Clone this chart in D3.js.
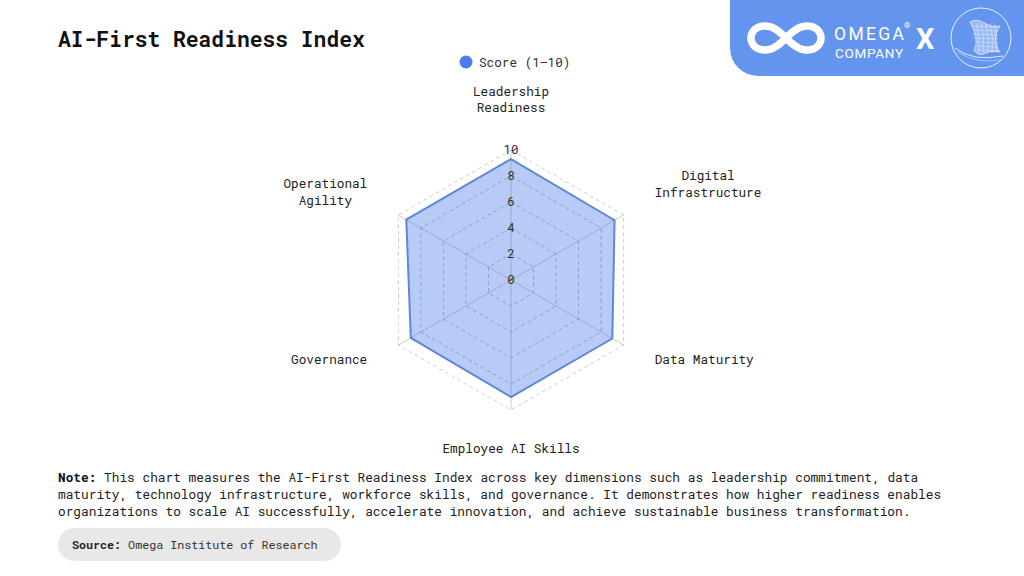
<!DOCTYPE html>
<html>
<head>
<meta charset="utf-8">
<script src="https://cdn.jsdelivr.net/npm/d3@7"></script>
<style>
  html, body { margin: 0; padding: 0; background: #fff; }
  svg { display: block; }
  text { font-family: "Roboto Mono", "DejaVu Sans Mono", monospace; }
</style>
</head>
<body>
<div id="chart"></div>
<script>
// chart data
var categories = [
  ["Leadership", "Readiness"],
  ["Digital", "Infrastructure"],
  ["Data Maturity"],
  ["Employee AI Skills"],
  ["Governance"],
  ["Operational", "Agility"]
]
var scores = [9.3, 9.2, 9.0, 9.0, 8.9, 9.3]
var tickValues = [0, 2, 4, 6, 8, 10]
var seriesName = "Score (1\u201310)"
var title = "AI-First Readiness Index"
var noteLines = [
  "This chart measures the AI-First Readiness Index across key dimensions such as leadership commitment, data",
  "maturity, technology infrastructure, workforce skills, and governance. It demonstrates how higher readiness enables",
  "organizations to scale AI successfully, accelerate innovation, and achieve sustainable business transformation."
]
var sourceText = "Omega Institute of Research"

var W = 1024, H = 576
var cx = 511, cy = 280, R = 130
var blue = "#4a7de8"

var svg = d3.select("#chart").append("svg")
  .attr("width", W)
  .attr("height", H)

// title
svg.append("text")
  .attr("x", 58).attr("y", 47)
  .attr("font-size", 21.3)
  .attr("font-weight", "bold")
  .attr("fill", "#111")
  .text(title)

// logo banner top right
var logo = svg.append("g").attr("class", "logo")
logo.append("path")
  .attr("d", "M730,0 H1024 V76 H758 A28,28 0 0 1 730,48 Z")
  .attr("fill", "#6495ee")

var lem = d3.range(0, 2 * Math.PI + 0.01, Math.PI / 40).map(function(t) {
  var s = Math.sin(t), c = Math.cos(t), k = 1 + s * s
  return [786 + 35 * c / k, 38 + 34 * s * c / k]
})
logo.append("path")
  .attr("d", d3.line().curve(d3.curveCatmullRomClosed)(lem))
  .attr("fill", "none")
  .attr("stroke", "#fff")
  .attr("stroke-width", 7.5)

var sans = "Roboto, 'Noto Sans', sans-serif"
logo.append("text")
  .attr("x", 834).attr("y", 40)
  .attr("font-size", 17.5).attr("fill", "#fff")
  .attr("textLength", 70)
  .style("font-family", sans)
  .text("OMEGA")
logo.append("text")
  .attr("x", 835).attr("y", 57.5)
  .attr("font-size", 13.5).attr("fill", "#fff")
  .attr("textLength", 68)
  .style("font-family", sans)
  .text("COMPANY")
logo.append("text")
  .attr("x", 904).attr("y", 28)
  .attr("font-size", 8).attr("fill", "#fff")
  .style("font-family", sans)
  .text("\u00ae")
logo.append("text")
  .attr("x", 916).attr("y", 49)
  .attr("font-size", 29).attr("font-weight", "bold").attr("fill", "#fff")
  .style("font-family", sans)
  .text("X")

// round badge with a mesh hourglass
logo.append("circle")
  .attr("cx", 981).attr("cy", 38).attr("r", 30)
  .attr("fill", "none")
  .attr("stroke", "rgba(255,255,255,0.85)")
  .attr("stroke-width", 1)
var mesh = logo.append("g")
  .attr("fill", "none")
  .attr("stroke", "rgba(255,255,255,0.7)")
  .attr("stroke-width", 0.5)
var glass = "M970,22 Q978,18 986,24 Q993,28 1000,26 Q994,34 996,44 Q998,50 1000,52 Q990,50 984,54 Q978,56 974,50 Q980,40 970,22 Z"
logo.append("path")
  .attr("d", glass)
  .attr("fill", "rgba(255,255,255,0.35)")
  .attr("stroke", "rgba(255,255,255,0.8)")
  .attr("stroke-width", 0.8)
d3.range(1, 8).forEach(function(i) {
  var y = 22 + i * 4
  mesh.append("path")
    .attr("d", "M" + (970 + Math.abs(4 - i) * 0.5 + (i > 4 ? 6 : 2)) + "," + y + " L" + (998 - Math.abs(4 - i) * 0.3) + "," + (y + 1))
})
d3.range(1, 6).forEach(function(i) {
  var x = 972 + i * 4.5
  mesh.append("path")
    .attr("d", "M" + x + "," + 23 + " Q" + (x + 4) + ",38 " + (x + 2) + "," + 53)
})
logo.append("path")
  .attr("d", "M955,48 Q972,62 1003,56")
  .attr("fill", "none")
  .attr("stroke", "rgba(255,255,255,0.8)")
  .attr("stroke-width", 1)
logo.append("path")
  .attr("d", "M958,52 Q975,64 1000,60")
  .attr("fill", "none")
  .attr("stroke", "rgba(255,255,255,0.5)")
  .attr("stroke-width", 0.8)

// legend
svg.append("circle")
  .attr("cx", 466).attr("cy", 62).attr("r", 6.5)
  .attr("fill", blue)
svg.append("text")
  .attr("x", 479).attr("y", 66.5)
  .attr("font-size", 12.7)
  .attr("fill", "#333")
  .text(seriesName)

// radar scales
var r = d3.scaleLinear().domain([0, 10]).range([0, R])
var angle = d3.scaleLinear()
  .domain([0, categories.length])
  .range([-Math.PI / 2, 3 * Math.PI / 2])

function pt(i, v) {
  var a = angle(i)
  return [cx + r(v) * Math.cos(a), cy + r(v) * Math.sin(a)]
}

var radar = svg.append("g").attr("class", "radar")

// grid rings
tickValues.filter(function(d) { return d > 0 }).forEach(function(t) {
  radar.append("path")
    .attr("d", d3.line()(categories.map(function(c, i) { return pt(i, t) })) + "Z")
    .attr("fill", "none")
    .attr("stroke", t === 10 ? "#d6cfc8" : "#b9b9b9")
    .attr("stroke-width", 1)
    .attr("stroke-dasharray", "4,3")
})

// score polygon
radar.append("path")
  .attr("d", d3.line()(scores.map(function(v, i) { return pt(i, v) })) + "Z")
  .attr("fill", "rgba(74,125,232,0.4)")
  .attr("stroke", "#5f87d6")
  .attr("stroke-width", 2)
  .attr("stroke-linejoin", "miter")

// angle lines
categories.forEach(function(c, i) {
  var p = pt(i, 10)
  radar.append("line")
    .attr("x1", cx).attr("y1", cy)
    .attr("x2", p[0]).attr("y2", p[1])
    .attr("stroke", "rgba(110,110,130,0.35)")
    .attr("stroke-width", 1)
})

// tick labels
radar.selectAll(".tick")
  .data(tickValues)
  .enter()
  .append("text")
  .attr("class", "tick")
  .attr("x", cx)
  .attr("y", function(d) { return cy - r(d) })
  .attr("dy", "0.35em")
  .attr("text-anchor", "middle")
  .attr("font-size", 12.5)
  .attr("fill", "#333")
  .text(function(d) { return d })

// point labels
var lineH = 16.5
var labR = 162
categories.forEach(function(lines, i) {
  var a = angle(i)
  var cosA = Math.cos(a), sinA = Math.sin(a)
  var px = cx + (labR + 4) * cosA
  var py = cy + labR * sinA * (Math.abs(cosA) > 0.01 ? 0.88 : 1)
  if (Math.abs(cosA) < 0.01) py -= 2
  // right-hand upper label sits a little higher in the original
  if (cosA > 0.01 && sinA < 0) py -= 8
  var g = radar.append("g")
  var txt = g.selectAll("text")
    .data(lines)
    .enter()
    .append("text")
    .attr("font-size", 12.7)
    .attr("fill", "#222")
    .attr("text-anchor", "middle")
    .text(function(d) { return d })
  var w = d3.max(txt.nodes(), function(n) { return n.getComputedTextLength() })
  var boxH = lines.length * lineH
  var left
  if (Math.abs(cosA) < 0.01) left = px - w / 2
  else if (cosA > 0) left = px
  else left = px - w
  var top = sinA < 0 ? py - boxH : py
  txt.attr("x", left + w / 2)
    .attr("y", function(d, j) { return top + lineH * j + lineH / 2 })
    .attr("dy", "0.35em")
})

// note
var note = svg.append("g").attr("font-size", 12.8).attr("fill", "#222")
noteLines.forEach(function(line, j) {
  var t = note.append("text")
    .attr("x", 58)
    .attr("y", 481.5 + j * 17)
  if (j === 0) {
    t.append("tspan").attr("font-weight", "bold").attr("fill", "#111").text("Note:")
    t.append("tspan").text(" " + line)
  } else {
    t.text(line)
  }
})

// source pill
svg.append("rect")
  .attr("x", 58).attr("y", 528)
  .attr("width", 283).attr("height", 33)
  .attr("rx", 16.5)
  .attr("fill", "#e8e8e8")
var src = svg.append("text")
  .attr("x", 72).attr("y", 548.5)
  .attr("font-size", 11.7)
  .attr("fill", "#333")
src.append("tspan").attr("font-weight", "bold").attr("fill", "#222").text("Source:")
src.append("tspan").text(" " + sourceText)
</script>
</body>
</html>
